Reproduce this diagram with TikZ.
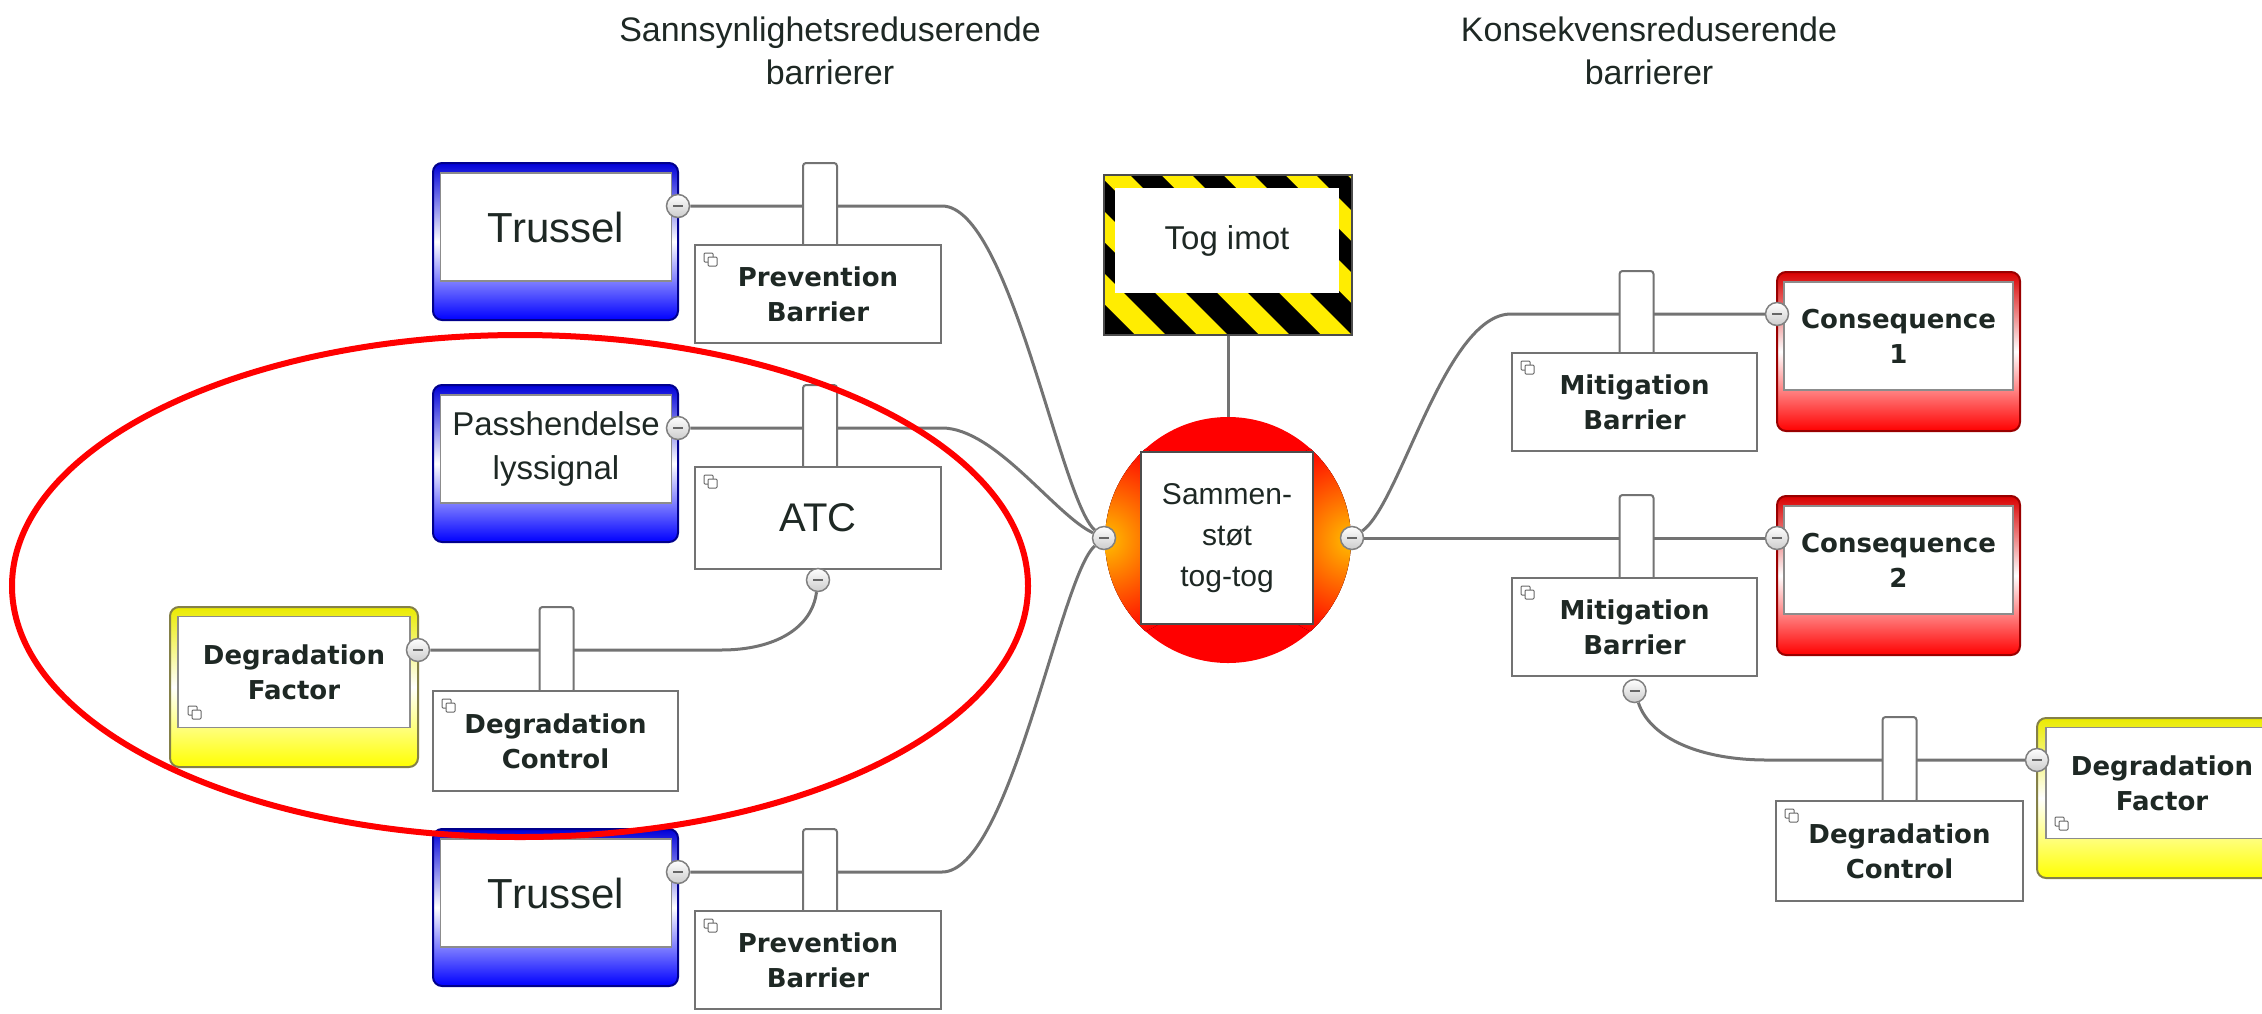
\documentclass[tikz,border=0pt]{standalone}
\usepackage{fontspec}
\setmainfont{Liberation Sans}
\newfontfamily\tagfont{DejaVu Sans}
\usetikzlibrary{backgrounds}
\definecolor{ink}{HTML}{1E2824}

\begin{document}
\begin{tikzpicture}[yscale=-1
  ,threatbox/.style={rounded corners=9pt,draw=blue!55!black,line width=2pt,top color=blue!85!black,bottom color=blue,middle color=white,minimum width=245pt,minimum height=157pt,inner sep=0pt}
  ,conbox/.style={rounded corners=9pt,draw=red!60!black,line width=2pt,top color=red!85!black,bottom color=red,middle color=white,minimum width=243pt,minimum height=159pt,inner sep=0pt}
  ,factorbox/.style={rounded corners=9pt,draw=yellow!45!black,line width=2pt,top color=yellow!92!black,bottom color=yellow,middle color=white,minimum width=248pt,minimum height=160pt,inner sep=0pt}
  ,panel/.style={fill=white,draw=black!45,line width=1.5pt,minimum width=231pt,minimum height=108pt,inner sep=0pt,align=center,text=ink}
  ,tagtext/.style={font=\tagfont\bfseries\fontsize{26}{35}\selectfont}
  ,barbox/.style={fill=white,draw=black!55,line width=2pt,minimum width=246pt,minimum height=98pt,inner sep=0pt,align=center,text=ink,tagtext}
  ,stembox/.style={fill=white,draw=black!55,line width=2pt,rounded corners=3pt,minimum width=34pt,minimum height=86pt,inner sep=0pt}
  ,knob/.style={circle,draw=black!50,line width=1.5pt,top color=white,bottom color=black!20,minimum size=23pt,inner sep=0pt,path picture={\draw[black!60,line width=2.5pt] ([xshift=-5pt]path picture bounding box.center) -- ([xshift=5pt]path picture bounding box.center);}}
  ,link/.style={draw=black!55,line width=3pt}
  ,iconsq/.style={draw=black!60,fill=white,line width=1pt,rounded corners=1pt}
  ,headfont/.style={font=\fontsize{34}{43}\selectfont,text=ink,align=center,inner sep=0pt}
]
\useasboundingbox (0pt,0pt) rectangle (2262pt,1013pt);
\clip (0pt,0pt) rectangle (2262pt,1013pt);

% --- headings ---
\node[headfont] (hl) at (830pt,51pt) {Sannsynlighetsreduserende\\barrierer};
\node[headfont] (hr) at (1649pt,51pt) {Konsekvensreduserende\\barrierer};

% --- threats ---
\node[threatbox] (t1box) at (555.5pt,241.5pt) {};
\node[panel,font=\fontsize{42}{50}\selectfont] (t1) at (556pt,227pt) {Trussel};
\node[threatbox] (t2box) at (555.5pt,463.5pt) {};
\node[panel,font=\fontsize{33}{44}\selectfont] (t2) at (556pt,449pt) {Passhendelse\\lyssignal};
\node[threatbox] (t3box) at (555.5pt,907.5pt) {};
\node[panel,font=\fontsize{42}{50}\selectfont] (t3) at (556pt,893pt) {Trussel};

% --- degradation factor, left ---
\node[factorbox] (dflbox) at (294pt,687pt) {};
\node[panel,tagtext,minimum width=232pt,minimum height=111pt] (dfl) at (294pt,672pt) {Degradation\\Factor};

% --- prevention barriers ---
\node[stembox] (s1) at (820pt,206pt) {};
\node[barbox] (pb1) at (818pt,294pt) {Prevention\\Barrier};
\node[stembox] (s2) at (820pt,428pt) {};
\node[barbox,minimum height=102pt,font=\fontsize{40}{48}\selectfont] (atc) at (818pt,518pt) {ATC};
\node[stembox] (s4) at (820pt,872pt) {};
\node[barbox] (pb3) at (818pt,960pt) {Prevention\\Barrier};
\node[stembox] (s3) at (556.5pt,650pt) {};
\node[barbox,minimum width=245pt,minimum height=100pt] (dcl) at (555.5pt,741pt) {Degradation\\Control};

% --- hazard ---
\node[minimum width=248pt,minimum height=160pt,inner sep=0pt] (hz) at (1228pt,255pt) {};
\begin{scope}
\clip (hz.south west) rectangle (hz.north east);
\fill[yellow!95!orange] (hz.south west) rectangle (hz.north east);
\foreach \k in {0,...,9}
  \fill[black] ({944pt+62pt*\k},175pt) -- ++(31pt,0pt) -- ++(160pt,160pt) -- ++(-31pt,0pt) -- cycle;
\end{scope}
\draw[black!70,line width=1.5pt] (hz.south west) rectangle (hz.north east);
\node[panel,draw=none,minimum width=224pt,minimum height=105pt,font=\fontsize{33}{40}\selectfont] (hzp) at (1227pt,240.5pt) {Tog imot};

% --- top event ---
\node[circle,minimum size=246pt,fill=red] (topev) at (1228pt,540pt) {};
\begin{scope}
\clip (1228pt,540pt) circle (123pt);
\fill[inner color=orange!50!yellow,outer color=red] (topev.west) circle (100pt);
\fill[inner color=orange!50!yellow,outer color=red] (topev.east) circle (100pt);
\end{scope}
\node[fill=white,draw=black!70,line width=1.5pt,minimum size=172pt,inner sep=0pt,align=center,text=ink,font=\fontsize{30}{41}\selectfont] (top) at (1227pt,538pt) {Sammen-\\støt\\tog-tog};

% --- consequences ---
\node[conbox] (c1box) at (1898.5pt,351.5pt) {};
\node[panel,tagtext,minimum width=229pt] (c1) at (1898.5pt,336pt) {Consequence\\1};
\node[conbox] (c2box) at (1898.5pt,575.5pt) {};
\node[panel,tagtext,minimum width=229pt] (c2) at (1898.5pt,560pt) {Consequence\\2};

% --- mitigation barriers ---
\node[stembox] (s5) at (1636.5pt,314pt) {};
\node[barbox,minimum width=245pt] (mb1) at (1634.5pt,402pt) {Mitigation\\Barrier};
\node[stembox] (s6) at (1636.5pt,538pt) {};
\node[barbox,minimum width=245pt] (mb2) at (1634.5pt,627pt) {Mitigation\\Barrier};

% --- degradation factor, right ---
\node[factorbox] (dfrbox) at (2161pt,798pt) {};
\node[panel,tagtext,minimum width=232pt,minimum height=111pt] (dfr) at (2162pt,783pt) {Degradation\\Factor};
\node[stembox] (s7) at (1899.5pt,760pt) {};
\node[barbox,minimum width=247pt,minimum height=100pt] (dcr) at (1899.5pt,851pt) {Degradation\\Control};

% --- small icons ---
\foreach \ix/\iy in {704/253,704/475,704/919,442/699,1521/361,1521/586,1785/809,188/706,2055/817}
  {\draw[iconsq] ({\ix*1pt},{\iy*1pt}) rectangle +(9pt,9pt);
   \draw[iconsq] ({\ix*1pt+4pt},{\iy*1pt+4pt}) rectangle +(9pt,9pt);}

% --- knobs ---
\node[knob] (k1) at (678pt,206pt) {};
\node[knob] (k2) at (678pt,428pt) {};
\node[knob] (k3) at (418pt,650pt) {};
\node[knob] (k4) at (678pt,872pt) {};
\node[knob] (katc) at (818pt,580pt) {};
\node[knob] (kl) at (1104pt,538pt) {};
\node[knob] (kr) at (1352pt,538pt) {};
\node[knob] (kc1) at (1777pt,314pt) {};
\node[knob] (kc2) at (1777pt,538pt) {};
\node[knob] (kmb) at (1634.5pt,691pt) {};
\node[knob] (kdf) at (2037pt,760pt) {};

% --- connectors ---
\begin{pgfonlayer}{background}
\draw[link] (k1) -- (pb1.east |- k1) .. controls (1010pt,206pt) and (1060pt,500pt) .. (kl);
\draw[link] (k2) -- (atc.east |- k2) .. controls (995pt,428pt) and (1055pt,515pt) .. (kl);
\draw[link] (k4) -- (pb3.east |- k4) .. controls (1010pt,872pt) and (1060pt,576pt) .. (kl);
\draw[link] (katc) .. controls (812pt,628pt) and (775pt,650pt) .. (721pt,650pt) -- (k3);
\draw[link] (hz) -- (topev);
\draw[link] (kr) .. controls (1400pt,505pt) and (1445pt,314pt) .. (mb1.west |- kc1) -- (kc1);
\draw[link] (kr) -- (kc2);
\draw[link] (kmb) .. controls (1650pt,738pt) and (1700pt,760pt) .. (1767pt,760pt) -- (kdf);
\end{pgfonlayer}

% --- marking ---
\draw[red,line width=6pt] (520pt,586pt) ellipse [x radius=508pt,y radius=251pt];

\end{tikzpicture}
\end{document}
